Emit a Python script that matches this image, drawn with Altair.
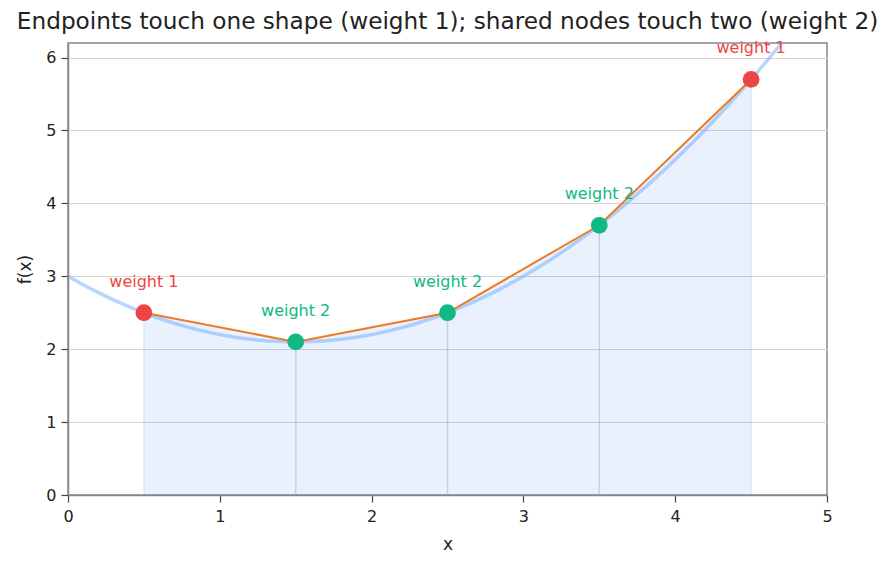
import altair as alt
import pandas as pd

# smooth curve f(x)
curve_x = [0.0, 0.1, 0.2, 0.3, 0.4, 0.5, 0.6, 0.7, 0.8, 0.9, 1.0, 1.1, 1.2, 1.3, 1.4,
           1.5, 1.6, 1.7, 1.8, 1.9, 2.0, 2.1, 2.2, 2.3, 2.4, 2.5, 2.6, 2.7, 2.8, 2.9,
           3.0, 3.1, 3.2, 3.3, 3.4, 3.5, 3.6, 3.7, 3.8, 3.9, 4.0, 4.1, 4.2, 4.3, 4.4,
           4.5, 4.6, 4.7, 4.8]
curve_y = [3.0, 2.884, 2.776, 2.676, 2.584, 2.5, 2.424, 2.356, 2.296, 2.244, 2.2, 2.164,
           2.136, 2.116, 2.104, 2.1, 2.104, 2.116, 2.136, 2.164, 2.2, 2.244, 2.296, 2.356,
           2.424, 2.5, 2.584, 2.676, 2.776, 2.884, 3.0, 3.124, 3.256, 3.396, 3.544, 3.7,
           3.864, 4.036, 4.216, 4.404, 4.6, 4.804, 5.016, 5.236, 5.464, 5.7, 5.944, 6.196,
           6.456]

# trapezoid nodes
node_x = [0.5, 1.5, 2.5, 3.5, 4.5]
node_y = [2.5, 2.1, 2.5, 3.7, 5.7]
node_label = ["weight 1", "weight 2", "weight 2", "weight 2", "weight 1"]
node_kind = ["end", "shared", "shared", "shared", "end"]

curve_df = pd.DataFrame({"x": curve_x, "y": curve_y})
nodes_df = pd.DataFrame({"x": node_x, "y": node_y, "label": node_label, "kind": node_kind})

# each trapezoid contributes its left and right edges
edges = []
for i in range(len(node_x) - 1):
    edges.append({"x": node_x[i], "y0": 0.0, "y": node_y[i]})
    edges.append({"x": node_x[i + 1], "y0": 0.0, "y": node_y[i + 1]})
edges_df = pd.DataFrame(edges)

xs = alt.Scale(domain=[0, 5], nice=False)
ys = alt.Scale(domain=[0, 6.2], nice=False)

x_axis = alt.Axis(values=[0, 1, 2, 3, 4, 5], grid=False, title="x", format="d",
                  labelFlush=False, labelPadding=6, titlePadding=12)
y_axis = alt.Axis(values=[0, 1, 2, 3, 4, 5, 6], grid=True, title="f(x)", format="d",
                  labelFlush=False, labelPadding=5, titlePadding=11)

color_scale = alt.Scale(domain=["end", "shared"], range=["#ef4444", "#10b981"])

area = alt.Chart(nodes_df).mark_area(color="#3b82f6", opacity=0.11, clip=True).encode(
    x=alt.X("x:Q", scale=xs, axis=x_axis),
    y=alt.Y("y:Q", scale=ys, axis=y_axis),
)

edge_rules = alt.Chart(edges_df).mark_rule(color="#94a3b8", opacity=0.22, strokeWidth=1.5).encode(
    x=alt.X("x:Q", scale=xs), y=alt.Y("y0:Q", scale=ys), y2="y:Q"
)

curve = alt.Chart(curve_df).mark_line(color="#60a5fa", opacity=0.45, strokeWidth=3.5, clip=True).encode(
    x=alt.X("x:Q", scale=xs), y=alt.Y("y:Q", scale=ys)
)

chord = alt.Chart(nodes_df).mark_line(color="#ee7a22", strokeWidth=2).encode(
    x=alt.X("x:Q", scale=xs), y=alt.Y("y:Q", scale=ys)
)

points = alt.Chart(nodes_df).mark_circle(size=280, opacity=1).encode(
    x=alt.X("x:Q", scale=xs), y=alt.Y("y:Q", scale=ys),
    color=alt.Color("kind:N", scale=color_scale, legend=None),
)

labels = alt.Chart(nodes_df).mark_text(
    fontSize=16, dy=-31, font="DejaVu Sans", align="center", baseline="middle"
).encode(
    x=alt.X("x:Q", scale=xs), y=alt.Y("y:Q", scale=ys), text="label:N",
    color=alt.Color("kind:N", scale=color_scale, legend=None),
)

chart = alt.layer(area, edge_rules, curve, chord, points, labels).properties(
    width=759,
    height=452,
    autosize=alt.AutoSizeParams(type="none"),
    padding={"left": 68, "top": 43, "right": 69, "bottom": 74},
    title=alt.TitleParams(
        "Endpoints touch one shape (weight 1); shared nodes touch two (weight 2)",
        fontSize=23.2, font="DejaVu Sans", fontWeight="normal", color="#222222",
        anchor="middle", offset=6,
    ),
).configure_view(
    stroke="#888888", strokeWidth=1.5
).configure_axis(
    labelFont="DejaVu Sans", titleFont="DejaVu Sans",
    labelFontSize=16, titleFontSize=17, titleFontWeight="normal",
    labelColor="#222222", titleColor="#222222",
    domainColor="#888888", domainWidth=1.5,
    tickColor="#444444", tickSize=7, tickWidth=1.2,
    gridColor="#d4d4d4", gridWidth=1,
)

chart.save("out.html", embed_options={"renderer": "svg", "actions": False})
